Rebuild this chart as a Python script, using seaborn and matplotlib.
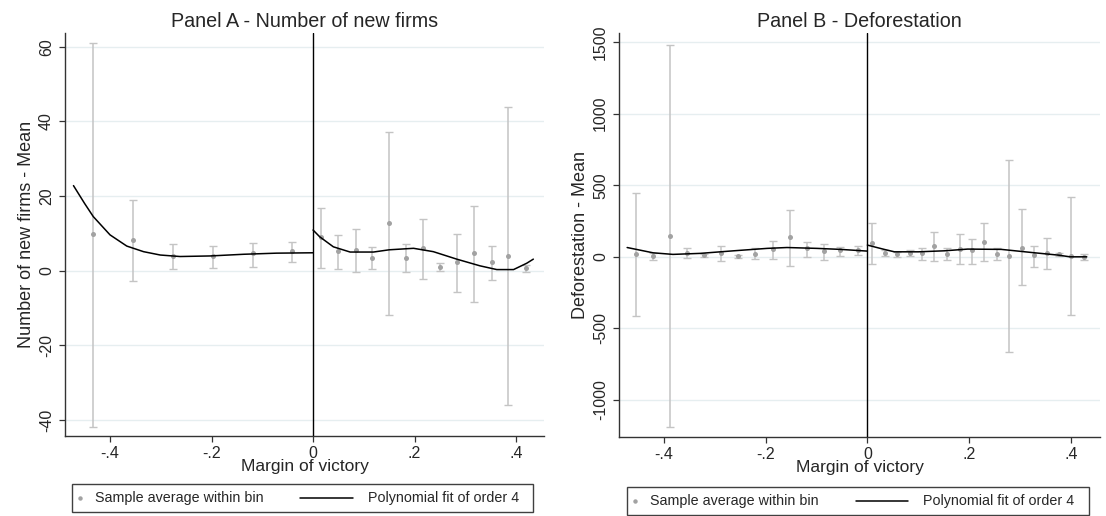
import numpy as np
import pandas as pd
import matplotlib
matplotlib.use("Agg")
import matplotlib.pyplot as plt
from matplotlib.lines import Line2D
from matplotlib.patches import Rectangle
import seaborn as sns

# ---------------- data ----------------
# Panel A - Number of new firms (bin averages with 95% CI)
a_left_x = [-0.433, -0.355, -0.275, -0.198, -0.119, -0.041]
a_left_y = [9.8, 8.2, 4.0, 4.0, 4.7, 5.2]
a_left_lo = [-41.8, -2.7, 0.5, 0.8, 1.1, 2.4]
a_left_hi = [61.1, 19.0, 7.1, 6.7, 7.4, 7.8]

a_right_x = [0.016, 0.050, 0.084, 0.117, 0.150, 0.183, 0.217, 0.250, 0.283, 0.318, 0.352, 0.385, 0.419]
a_right_y = [9.1, 5.3, 5.6, 3.3, 12.7, 3.3, 6.0, 0.9, 2.4, 4.8, 2.2, 4.0, 0.7]
a_right_lo = [0.8, 0.5, -0.4, 0.5, -11.9, -0.4, -2.2, 0.0, -5.6, -8.3, -2.5, -36.0, -0.4]
a_right_hi = [16.7, 9.5, 11.1, 6.3, 37.3, 7.1, 13.8, 2.0, 9.9, 17.4, 6.6, 43.8, 1.4]

a_fit_left_x = [-0.472, -0.45, -0.433, -0.4, -0.367, -0.334, -0.301, -0.262, -0.203, -0.137, -0.072, 0.0]
a_fit_left_y = [22.8, 18.0, 14.5, 9.6, 6.6, 5.1, 4.2, 3.8, 3.95, 4.4, 4.7, 4.8]
a_fit_right_x = [0.0, 0.013, 0.04, 0.073, 0.119, 0.150, 0.198, 0.237, 0.283, 0.329, 0.362, 0.395, 0.421, 0.434]
a_fit_right_y = [10.9, 9.1, 6.4, 5.0, 5.0, 5.6, 6.0, 5.1, 3.1, 1.3, 0.3, 0.3, 2.0, 3.1]

# Panel B - Deforestation
b_left_x = [-0.454, -0.421, -0.388, -0.354, -0.321, -0.288, -0.254, -0.220, -0.186, -0.153, -0.118, -0.086, -0.053, -0.019]
b_left_y = [19, 5, 147, 28, 10, 28, 3, 23, 54, 140, 61, 38, 47, 47]
b_left_lo = [-415, -23, -1189, -11, 0, -28, -7, -18, -14, -63, 0, -23, 9, 16]
b_left_hi = [448, 28, 1480, 63, 19, 77, 12, 61, 112, 324, 103, 87, 70, 75]

b_right_x = [0.010, 0.034, 0.059, 0.083, 0.107, 0.131, 0.156, 0.181, 0.205, 0.230, 0.255, 0.279, 0.303, 0.328, 0.352, 0.376, 0.400, 0.425]
b_right_y = [98, 28, 19, 30, 28, 75, 19, 58, 47, 105, 19, 9, 65, 12, 28, 19, 5, 0]
b_right_lo = [-47, 5, 0, 5, -19, -30, -23, -47, -47, -30, -23, -662, -196, -70, -86, 9, -408, -19]
b_right_hi = [238, 51, 33, 51, 65, 175, 63, 159, 126, 238, 63, 676, 331, 77, 133, 28, 420, 23]

b_fit_left_x = [-0.472, -0.454, -0.421, -0.382, -0.329, -0.263, -0.197, -0.158, -0.099, -0.053, 0.0]
b_fit_left_y = [65, 52, 28, 17, 24, 42, 59, 65, 59, 52, 40]
b_fit_right_x = [0.0, 0.033, 0.053, 0.1, 0.151, 0.197, 0.263, 0.329, 0.375, 0.398, 0.431]
b_fit_right_y = [82, 52, 35, 35, 42, 54, 52, 28, 12, 0, 0]

x_ticks = [-0.4, -0.2, 0.0, 0.2, 0.4]
x_ticklabels = ["-.4", "-.2", "0", ".2", ".4"]
a_yticks = [-40, -20, 0, 20, 40, 60]
a_yticklabels = ["-40", "-20", "0", "20", "40", "60"]
b_yticks = [-1000, -500, 0, 500, 1000, 1500]
b_yticklabels = ["-1000", "-500", "0", "500", "1000", "1500"]

titles = ["Panel A - Number of new firms", "Panel B - Deforestation"]
ylabels = ["Number of new firms - Mean", "Deforestation - Mean"]
xlabel = "Margin of victory"
legend_labels = ["Sample average within bin", "Polynomial fit of order 4"]

# ---------------- style ----------------
sns.set_style("white")
plt.rcParams["font.family"] = ["Liberation Sans", "DejaVu Sans"]

W, H = 1106, 516
fig = plt.figure(figsize=(W / 100, H / 100), dpi=100)

def fr(x0, y0, x1, y1):
    return [x0 / W, 1 - y1 / H, (x1 - x0) / W, (y1 - y0) / H]

axA = fig.add_axes(fr(65, 33, 544, 436))
axB = fig.add_axes(fr(619, 33, 1100, 437))

GRID = "#e6eef0"
SPINE = "#333333"
BAR = "#c4c4c4"
PT = "#a2a2a2"

def draw_panel(ax, lx, ly, llo, lhi, rx, ry, rlo, rhi, flx, fly, frx, fry,
               yticks, ytl, ylim, title, ylabel):
    df = pd.DataFrame({"x": lx + rx, "y": ly + ry, "lo": llo + rlo, "hi": lhi + rhi})
    for v in yticks:
        ax.axhline(v, color=GRID, lw=1.0, zorder=0)
    ax.errorbar(df["x"], df["y"], yerr=[df["y"] - df["lo"], df["hi"] - df["y"]],
                fmt="none", ecolor=BAR, elinewidth=1.1, capsize=2.6, capthick=1.0, zorder=2)
    sns.scatterplot(data=df, x="x", y="y", ax=ax, color=PT, s=13, linewidth=0, zorder=3)
    sns.lineplot(x=flx, y=fly, ax=ax, color="black", lw=1.1, estimator=None, sort=False, zorder=4)
    sns.lineplot(x=frx, y=fry, ax=ax, color="black", lw=1.1, estimator=None, sort=False, zorder=4)
    ax.axvline(0, color="black", lw=1.0, zorder=5)
    ax.set_ylim(*ylim)
    ax.set_yticks(yticks)
    ax.set_yticklabels(ytl, rotation=90, va="center")
    ax.set_xticks(x_ticks)
    ax.set_xticklabels(x_ticklabels)
    ax.tick_params(axis="both", direction="out", length=4, width=0.9, color=SPINE,
                   labelsize=11.5, pad=3, left=True, bottom=True)
    ax.tick_params(axis="y", pad=4)
    for s in ["top", "right"]:
        ax.spines[s].set_visible(False)
    for s in ["left", "bottom"]:
        ax.spines[s].set_color(SPINE)
        ax.spines[s].set_linewidth(1.0)
    ax.set_title(title, fontsize=14.2, pad=4)
    ax.set_xlabel(xlabel, fontsize=12.5, labelpad=-1)
    ax.set_ylabel(ylabel, fontsize=13, labelpad=3)
    ax.grid(False)

draw_panel(axA, a_left_x, a_left_y, a_left_lo, a_left_hi,
           a_right_x, a_right_y, a_right_lo, a_right_hi,
           a_fit_left_x, a_fit_left_y, a_fit_right_x, a_fit_right_y,
           a_yticks, a_yticklabels, (-44.3, 63.7), titles[0], ylabels[0])
axA.set_xlim(-0.4887, 0.455)

draw_panel(axB, b_left_x, b_left_y, b_left_lo, b_left_hi,
           b_right_x, b_right_y, b_right_lo, b_right_hi,
           b_fit_left_x, b_fit_left_y, b_fit_right_x, b_fit_right_y,
           b_yticks, b_yticklabels, (-1259, 1564), titles[1], ylabels[1])
axB.set_xlim(-0.488, 0.457)

# ---------------- legends (drawn in figure pixel layout) ----------------
def P(x, y):
    return (x / W, 1 - y / H)

def legend_box(x0, y0, x1, y1, mx, tx1, lx0, lx1, tx2):
    yc = (y0 + y1) / 2
    fig.add_artist(Rectangle(P(x0, y1), (x1 - x0) / W, (y1 - y0) / H,
                             transform=fig.transFigure, fill=False,
                             edgecolor="#404040", lw=1.0))
    fig.add_artist(Line2D([P(mx, yc)[0]], [P(mx, yc)[1]], marker="o", ms=3.2,
                          color=PT, mec="none", transform=fig.transFigure))
    fig.text(*P(tx1, yc), legend_labels[0], fontsize=10.3, va="center", ha="left")
    fig.add_artist(Line2D([P(lx0, yc)[0], P(lx1, yc)[0]], [P(lx0, yc)[1]] * 2,
                          color="black", lw=1.1, transform=fig.transFigure))
    fig.text(*P(tx2, yc), legend_labels[1], fontsize=10.3, va="center", ha="left")

legend_box(72, 484, 533, 512, 80, 95, 300, 353, 368)
legend_box(627, 487, 1089, 515, 635, 650, 856, 908, 923)

fig.savefig("out.png", dpi=100)
